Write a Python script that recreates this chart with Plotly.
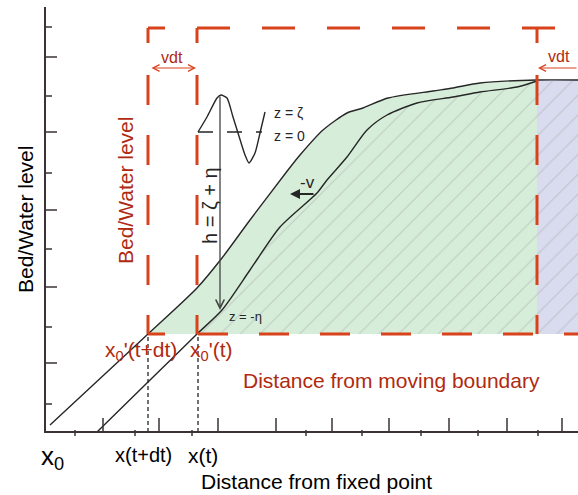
import plotly.graph_objects as go

FONT = "Liberation Sans, Arial, sans-serif"
RED_LINE = "#d8431c"
RED_TEXT = "#b02a10"
INK = "#262626"
GREEN = "#d6eed9"
LAVENDER = "#d9dbee"

# Water surface (z = zeta) and bed (z = -eta) profiles:
# distance from fixed point vs level
surface_x = [5, 103, 152, 177, 205, 243, 255, 278, 302, 318, 343, 388, 408, 435, 492, 533]
surface_y = [7, 98, 144, 174, 212, 262, 277, 302, 319, 324, 334, 341, 344, 349, 352, 352]
bed_x = [52, 103, 152, 177, 205, 235, 272, 282, 302, 322, 342, 372, 408, 435, 472, 492]
bed_y = [0, 50, 98, 122, 162, 205, 239, 252, 275, 302, 317, 329, 335, 340, 345, 351]

# Local wave sketch around the mean level z = 0
wave_x = [153, 162, 172, 176, 182, 188, 193, 200, 204, 210, 215, 220]
wave_y = [300, 315, 334, 337, 334, 315, 299, 277, 269, 279, 299, 320]
wave_mean = 300

# Axis ticks
y_ticks_long = [69, 145, 222, 300, 375]
y_ticks_short = [28, 105, 183, 259, 336, 405]
x_ticks_up = [58, 114, 173, 231, 287, 344, 404, 462, 517]
x_ticks_down = [30, 90, 147, 261, 317, 376, 433, 493]

# Moving-boundary frames
x_front_new = 103     # x0'(t+dt)
x_front_old = 152     # x0'(t)
x_box_right = 492
frame_top = 404
frame_base = 98
x_end = 533
y_top = 425


def clip(xs, ys, lo, hi):
    pts = [(x, y) for x, y in zip(xs, ys) if lo <= x <= hi]
    return [p[0] for p in pts], [p[1] for p in pts]


fig = go.Figure()

# water column between moving boundaries
sx, sy = clip(surface_x, surface_y, x_front_new, x_box_right)
fig.add_trace(go.Scatter(x=sx + [x_box_right, x_front_new], y=sy + [frame_base, frame_base],
                         fill="toself", fillcolor=GREEN, mode="lines", line=dict(width=0),
                         hoverinfo="skip"))

# region entering during dt
lx, ly = clip(surface_x, surface_y, x_box_right, x_end)
fig.add_trace(go.Scatter(x=lx + [x_end, x_box_right], y=ly + [frame_base, frame_base],
                         fill="toself", fillcolor=LAVENDER, mode="lines", line=dict(width=0),
                         hoverinfo="skip"))

# bed (hatched)
bx, by = clip(bed_x, bed_y, x_front_old, x_box_right)
rx, ry = clip(surface_x, surface_y, x_box_right + 1, x_end)
fig.add_trace(go.Scatter(x=bx + rx + [x_end, x_front_old], y=by + ry + [frame_base, frame_base],
                         fill="toself", fillcolor="rgba(0,0,0,0)", mode="lines",
                         line=dict(width=0), hoverinfo="skip",
                         fillpattern=dict(shape="/", size=14, solidity=0.08,
                                          fgcolor="#a9a9a9", bgcolor="rgba(0,0,0,0)")))

# profiles
curve = dict(color=INK, width=1.4, shape="spline", smoothing=0.7)
fig.add_trace(go.Scatter(x=surface_x, y=surface_y, mode="lines", line=curve))
fig.add_trace(go.Scatter(x=bed_x, y=bed_y, mode="lines", line=curve))

# wave and its mean level
fig.add_trace(go.Scatter(x=wave_x, y=wave_y, mode="lines",
                         line=dict(color=INK, width=1.4, shape="spline", smoothing=0.6)))
fig.add_trace(go.Scatter(x=[wave_x[0], wave_x[-1] - 3], y=[wave_mean, wave_mean], mode="lines",
                         line=dict(color=INK, width=1.3, dash="15px,14px")))

# projections of the boundary positions onto the fixed axis
fig.add_trace(go.Scatter(x=[x_front_new, x_front_new, None, x_front_old + 1, x_front_old + 1],
                         y=[0, frame_base, None, 0, frame_base], mode="lines",
                         line=dict(color=INK, width=1.3, dash="4px,3px")))

# axes
fig.add_trace(go.Scatter(x=[0, 0, x_end], y=[y_top, 0, 0], mode="lines",
                         line=dict(color="#3a3236", width=2)))
tx, ty = [], []
for t in y_ticks_long:
    tx += [0, 12, None]; ty += [t, t, None]
for t in y_ticks_short:
    tx += [0, 7, None]; ty += [t, t, None]
for t in x_ticks_up:
    tx += [t, t, None]; ty += [0, 14, None]
for t in x_ticks_down:
    tx += [t, t, None]; ty += [2, -4, None]
fig.add_trace(go.Scatter(x=tx, y=ty, mode="lines", line=dict(color="#3a3236", width=1.5)))


def dash(first_on, first_off, on, off, n=12):
    return ",".join(f"{v}px" for v in [first_on, first_off] + [on, off] * n)


v_dash = dash(15, 32, 30, 30)
shapes = []
for xv in (x_front_new, x_front_old, x_box_right):
    shapes.append(dict(type="line", x0=xv, x1=xv, y0=frame_top, y1=frame_base,
                       line=dict(color=RED_LINE, width=3, dash=v_dash)))
shapes.append(dict(type="line", x0=x_front_new, x1=x_end, y0=frame_top, y1=frame_top,
                   line=dict(color=RED_LINE, width=3, dash=dash(17, 32, 33, 32))))
shapes.append(dict(type="line", x0=x_front_new, x1=x_end, y0=frame_base, y1=frame_base,
                   line=dict(color=RED_LINE, width=3, dash=dash(17, 33, 30, 31))))

ann = []


def text(x, y, s, size, color=INK, angle=0, xanchor="center"):
    ann.append(dict(x=x, y=y, text=s, showarrow=False, textangle=angle, xanchor=xanchor,
                    yanchor="middle", font=dict(family=FONT, size=size, color=color)))


def arrow(x, y, ax, ay, color, width, head=2, size=1.0, both=False):
    a = dict(x=x, y=y, ax=ax, ay=ay, axref="x", ayref="y", text="", showarrow=True,
             arrowhead=head, arrowsize=size, arrowwidth=width, arrowcolor=color, standoff=0)
    if both:
        a.update(arrowside="end+start", startarrowhead=head, startarrowsize=size, startstandoff=0)
    ann.append(a)


# vdt shifts
arrow(x_front_old - 1, 364, x_front_new + 2, 364, RED_LINE, 1, head=5, size=1.3, both=True)
arrow(x_box_right + 1, 364, x_end, 364, RED_LINE, 1, head=5, size=1.3)
text(127, 375, "vdt", 16, RED_TEXT)
text(514, 376, "vdt", 16, RED_TEXT)

# depth arrow and labels
arrow(175, 122, 175, 337, "#444444", 1.3, head=5, size=1.3)
text(165, 226, "h = ζ + η", 20, INK, angle=-90)
text(227, 319, "z = ζ", 14, INK, xanchor="left")
text(227, 296, "z = 0", 14, INK, xanchor="left")
text(182, 116, "z = -η", 13, INK, xanchor="left")

# migration direction
arrow(245, 238, 270, 238, INK, 2, head=2, size=1)
text(262, 250, "-v", 17, INK)

# moving-frame labels
text(80, 241, "Bed/Water level", 21, RED_TEXT, angle=-90)
text(96, 81, "x<sub>0</sub>'(t+dt)", 21, RED_TEXT)
text(166, 81, "x<sub>0</sub>'(t)", 21, RED_TEXT)
text(346, 52, "Distance from moving boundary", 21, RED_TEXT)

# fixed-frame labels
text(-20, 212, "Bed/Water level", 21, "#000000", angle=-90)
text(7, -25, "x<sub>0</sub>", 26, "#000000")
text(98, -23, "x(t+dt)", 20, "#000000")
text(158, -23, "x(t)", 21, "#000000")
text(271, -49, "Distance from fixed point", 21, "#000000")

fig.update_layout(
    width=578, height=495, margin=dict(l=0, r=0, t=0, b=0),
    paper_bgcolor="white", plot_bgcolor="white", showlegend=False,
    xaxis=dict(range=[-45, 533], visible=False, fixedrange=True),
    yaxis=dict(range=[-63, 432], visible=False, fixedrange=True),
    shapes=shapes, annotations=ann,
)

fig.write_html("out.html")
